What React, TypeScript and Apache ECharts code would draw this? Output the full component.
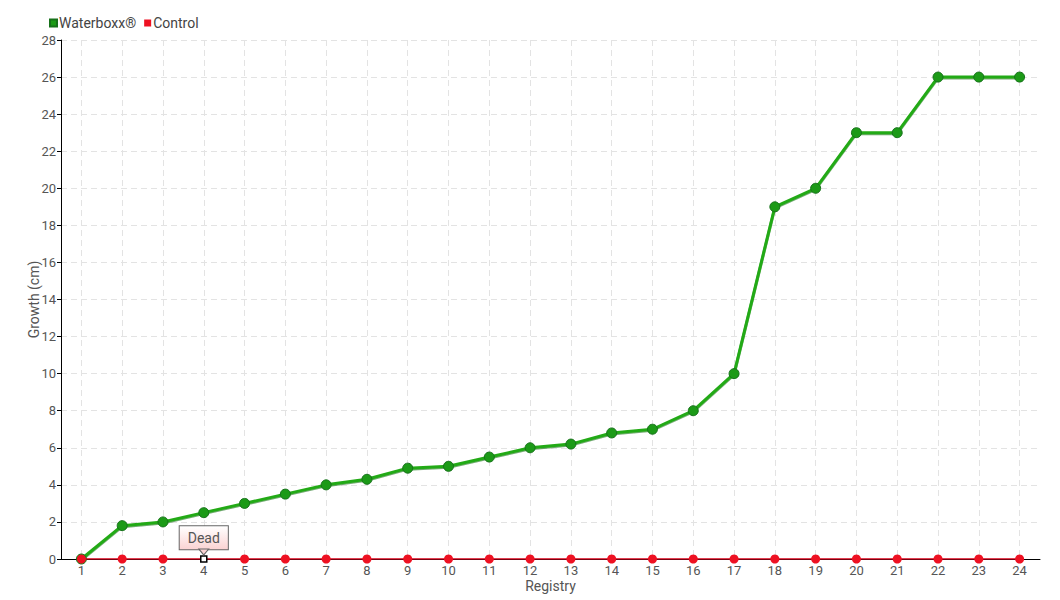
import React, { useEffect, useRef } from "react";
import * as echarts from "echarts";

const categories = ["1","2","3","4","5","6","7","8","9","10","11","12","13","14","15","16","17","18","19","20","21","22","23","24"];
const waterboxx = [0, 1.8, 2, 2.5, 3, 3.5, 4, 4.3, 4.9, 5, 5.5, 6, 6.2, 6.8, 7, 8, 10, 19, 20, 23, 23, 26, 26, 26];
const control = [0, 0, 0, 0, 0, 0, 0, 0, 0, 0, 0, 0, 0, 0, 0, 0, 0, 0, 0, 0, 0, 0, 0, 0];
const deadIndex = 3;
const deadLabel = "Dead";

const FONT = "Roboto, 'Liberation Sans Narrow', sans-serif";

export default function App() {
  const ref = useRef<HTMLDivElement>(null);
  useEffect(() => {
    const chart = echarts.init(ref.current!, null, { renderer: "svg" });
    const controlData = control.map((v, i) =>
      i === deadIndex
        ? {
            value: v,
            symbol: "rect",
            symbolSize: 6,
            itemStyle: { color: "#ffffff", borderColor: "#000000", borderWidth: 1.5 },
            label: {
              show: true,
              position: "top",
              distance: 6,
              formatter: deadLabel,
              color: "#555",
              fontFamily: FONT,
              fontSize: 14,
              padding: [5, 8, 4, 8],
              borderColor: "#666",
              borderWidth: 1,
              backgroundColor: {
                type: "linear", x: 0, y: 0, x2: 0, y2: 1,
                colorStops: [{ offset: 0, color: "#ffffff" }, { offset: 1, color: "#fbd3d3" }],
              },
            },
          }
        : v
    );
    chart.setOption({
      animation: false,
      textStyle: { fontFamily: FONT },
      legend: {
        left: 36,
        top: 3,
        itemWidth: 7,
        itemHeight: 7,
        itemGap: 8,
        icon: "rect",
        textStyle: { color: "#444", fontSize: 14, fontFamily: FONT, padding: [0, 0, 0, -3] },
        data: ["Waterboxx®", "Control"],
      },
      grid: { left: 53, right: 12, top: 32, bottom: 41, containLabel: false, outerBoundsMode: "none" },
      xAxis: {
        type: "category",
        data: categories,
        boundaryGap: true,
        name: "Registry",
        nameLocation: "middle",
        nameGap: 20,
        nameMoveOverlap: false,
        nameTextStyle: { color: "#555", fontSize: 14, lineHeight: 14, fontFamily: FONT },
        axisLine: { lineStyle: { color: "#000", width: 1 } },
        axisTick: { show: false, alignWithLabel: true },
        axisLabel: { color: "#555", fontSize: 13, lineHeight: 12, fontFamily: FONT, margin: 5 },
        splitLine: { show: true, alignWithLabel: true, lineStyle: { color: "#e3e3e3", type: [6, 4] } },
      },
      yAxis: {
        type: "value",
        min: 0,
        max: 28,
        interval: 2,
        name: "Growth (cm)",
        nameLocation: "middle",
        nameGap: 20,
        nameRotate: 90,
        nameMoveOverlap: false,
        nameTextStyle: { color: "#555", fontSize: 14, fontFamily: FONT },
        axisLine: { show: true, lineStyle: { color: "#000", width: 1 } },
        axisTick: { show: true, length: 4, lineStyle: { color: "#000" } },
        axisLabel: { color: "#555", fontSize: 13, fontFamily: FONT, margin: 5 },
        splitLine: { show: true, lineStyle: { color: "#e3e3e3", type: [6, 4] } },
      },
      series: [
        {
          name: "Waterboxx®",
          type: "line",
          data: waterboxx,
          symbol: "circle",
          symbolSize: 10,
          z: 3,
          lineStyle: { color: "#22aa14", width: 3, shadowColor: "rgba(10,110,10,0.6)", shadowBlur: 1, shadowOffsetY: 1 },
          itemStyle: { color: "#1c9a17", borderColor: "#16711a", borderWidth: 1 },
          emphasis: { disabled: true },
        },
        {
          name: "Control",
          type: "line",
          data: controlData,
          symbol: "circle",
          symbolSize: 9,
          z: 4,
          lineStyle: { color: "#d8001a", width: 1.5 },
          itemStyle: { color: "#ee1122", borderColor: "#ee1122", borderWidth: 0 },
          emphasis: { disabled: true },
          markPoint: {
            silent: true,
            symbol: "triangle",
            symbolSize: [10, 6],
            symbolRotate: 180,
            symbolOffset: [0, -7],
            itemStyle: { color: "#fbd3d3", borderColor: "#666", borderWidth: 1 },
            label: { show: false },
            data: [{ coord: [deadIndex, 0] }],
          },
        },
      ],
    });
    return () => chart.dispose();
  }, []);
  return <div ref={ref} style={{ width: 1044, height: 592 }} />;
}
